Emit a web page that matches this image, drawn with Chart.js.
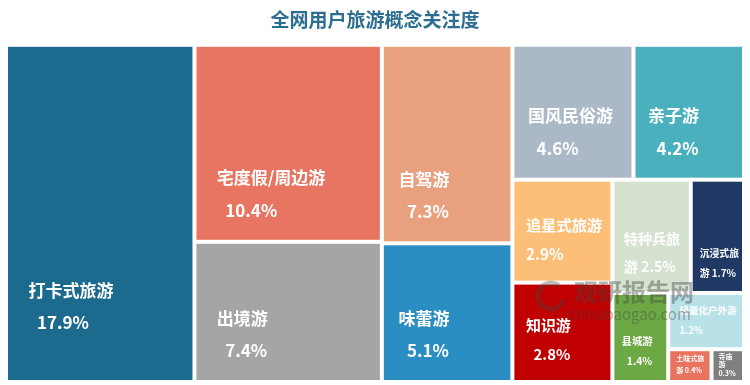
<!DOCTYPE html>
<html lang="zh-CN">
<head>
<meta charset="utf-8">
<title>全网用户旅游概念关注度</title>
<script src="https://cdn.jsdelivr.net/npm/chart.js@4.4.1/dist/chart.umd.min.js"></script>
<style>
  html, body { margin: 0; padding: 0; background: #fff; }
</style>
</head>
<body>
<canvas id="treeChart" width="750" height="385"></canvas>
<script>
const chartTitle = '全网用户旅游概念关注度';
const categories = ['打卡式旅游', '宅度假/周边游', '出境游', '自驾游', '味蕾游', '国风民俗游', '亲子游',
    '追星式旅游', '知识游', '特种兵旅游', '沉浸式旅游', '县城游', '轻量化户外游', '土味式旅游', '寺庙游'];
const shares = [17.9, 10.4, 7.4, 7.3, 5.1, 4.6, 4.2, 2.9, 2.8, 2.5, 1.7, 1.4, 1.2, 0.4, 0.3];
const cellColors = ['#1C6A8D', '#E87562', '#A5A5A5', '#E9A07F', '#2A8EC2', '#ABB8C5', '#4AB0BE',
    '#FDBE77', '#C00000', '#D4E2CF', '#1F3864', '#6CA944', '#B9E1E8', '#E8735E', '#7F7F7F'];

const CJK = '"Noto Sans CJK SC", "Noto Sans", sans-serif';
const ASPECT_SLACK = 1.1; // a row may grow while its worst aspect stays within this factor

// squarified layout in a (aspect x 1) box, values kept in the given order
function squarify(values, aspect) {
    const total = values.reduce((a, b) => a + b, 0);
    let items = values.map((v, i) => ({ i, a: v / total * aspect }));
    let x = 0, y = 0, w = aspect, h = 1;
    const out = [];
    const worst = (row, s) => {
        const sum = row.reduce((a, r) => a + r.a, 0);
        const max = Math.max(...row.map(r => r.a));
        const min = Math.min(...row.map(r => r.a));
        return Math.max(s * s * max / (sum * sum), sum * sum / (s * s * min));
    };
    while (items.length) {
        const s = Math.min(w, h);
        let row = [items[0]];
        let k = 1;
        while (k < items.length) {
            const cand = row.concat(items[k]);
            if (worst(cand, s) <= worst(row, s) * ASPECT_SLACK) { row = cand; k++; } else break;
        }
        items = items.slice(k);
        const thick = row.reduce((a, r) => a + r.a, 0) / s;
        if (w >= h) {
            let yy = y;
            row.forEach(r => { const hh = r.a / thick; out.push({ i: r.i, x, y: yy, w: thick, h: hh }); yy += hh; });
            x += thick; w -= thick;
        } else {
            let xx = x;
            row.forEach(r => { const ww = r.a / thick; out.push({ i: r.i, x: xx, y, w: ww, h: thick }); xx += ww; });
            y += thick; h -= thick;
        }
    }
    return out;
}

function wrapTokens(ctx, tokens, maxW) {
    const lines = [];
    let cur = '';
    tokens.forEach(t => {
        const next = cur + t;
        if (cur && ctx.measureText(next.trimEnd()).width > maxW) {
            lines.push(cur.trim());
            cur = t.trimStart();
        } else {
            cur = next;
        }
    });
    if (cur.trim()) lines.push(cur.trim());
    return lines;
}

function drawLabel(ctx, idx, left, top, w, h) {
    let fs = Math.max(7, Math.min(17, Math.sqrt(w * h) / 6.4));
    const pad = Math.min(22, w * 0.1 + 2);
    const pct = shares[idx].toFixed(1) + '%';
    ctx.font = `bold ${fs}px ${CJK}`;
    let lines, indents;
    if (ctx.measureText(categories[idx]).width <= w - 2 * pad) {
        lines = [categories[idx], pct];
        indents = [0, fs * 0.5];
    } else {
        fs = Math.max(7, Math.min(fs, (w - pad - 3) / 4));
        ctx.font = `bold ${fs}px ${CJK}`;
        lines = wrapTokens(ctx, [...categories[idx], ' ' + pct], w - pad - 3);
        indents = lines.map(() => 0);
    }
    const n = lines.length;
    const lh = Math.min(fs * 1.8 + 2, (h - 4) / n);
    let y0 = top + h * 0.78 - (n - 1) * lh / 2;
    const minY = top + lh / 2 + 1;
    const maxY = top + h - lh * 0.9 - (n - 1) * lh;
    y0 = Math.max(Math.min(y0, maxY), minY);
    ctx.fillStyle = '#FFFFFF';
    ctx.textBaseline = 'middle';
    ctx.textAlign = 'left';
    lines.forEach((ln, k) => {
        ctx.fillText(ln, left + pad + indents[k], y0 + k * lh);
    });
}

const treemapPlugin = {
    id: 'treemapCells',
    afterDatasetsDraw(chart) {
        const { ctx, chartArea, scales: { x, y } } = chart;
        const aspect = chartArea.width / chartArea.height;
        const cells = squarify(shares, aspect);
        ctx.save();
        cells.forEach(c => {
            const left = x.getPixelForValue(c.x / aspect) + 2;
            const right = x.getPixelForValue((c.x + c.w) / aspect) - 2;
            const top = y.getPixelForValue(c.y) + 2;
            const bottom = y.getPixelForValue(c.y + c.h) - 2;
            ctx.fillStyle = cellColors[c.i];
            ctx.fillRect(left, top, right - left, bottom - top);
            drawLabel(ctx, c.i, left, top, right - left, bottom - top);
        });
        ctx.restore();
    },
    afterDraw(chart) {
        // site watermark
        const { ctx } = chart;
        ctx.save();
        ctx.fillStyle = 'rgba(70, 70, 70, 0.42)';
        ctx.textAlign = 'left';
        ctx.textBaseline = 'middle';
        ctx.font = `bold 24px ${CJK}`;
        ctx.fillText('观研报告网', 574, 292);
        ctx.font = `15px ${CJK}`;
        ctx.fillText('chinabaogao.com', 566, 314);
        ctx.strokeStyle = 'rgba(70, 70, 70, 0.35)';
        ctx.lineWidth = 5;
        ctx.beginPath();
        ctx.arc(551, 296, 13, 0.3, Math.PI * 1.7);
        ctx.stroke();
        ctx.restore();
    }
};

new Chart(document.getElementById('treeChart'), {
    type: 'scatter',
    data: { datasets: [{ data: [], pointRadius: 0 }] },
    options: {
        responsive: false,
        animation: false,
        layout: { padding: { top: 2, left: 6, right: 6, bottom: 3 } },
        scales: {
            x: { type: 'linear', min: 0, max: 1, display: false },
            y: { type: 'linear', min: 0, max: 1, reverse: true, display: false },
        },
        plugins: {
            legend: { display: false },
            tooltip: { enabled: false },
            title: {
                display: true,
                text: chartTitle,
                color: '#2C6E8F',
                font: { size: 19, weight: 'bold', family: CJK },
                padding: { top: 6, bottom: 14 },
            },
        },
    },
    plugins: [treemapPlugin],
});
</script>
</body>
</html>
